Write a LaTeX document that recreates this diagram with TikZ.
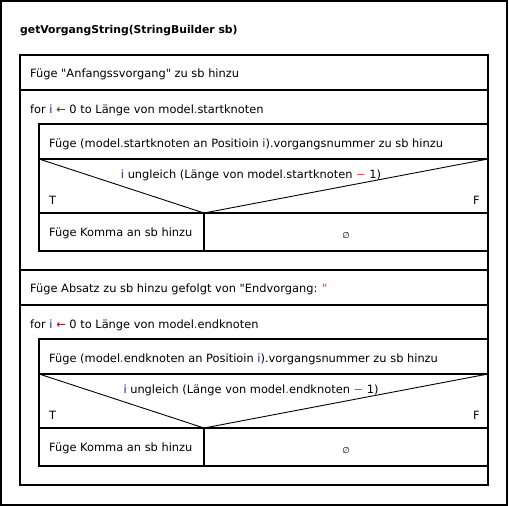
\documentclass[tikz,border=0pt]{standalone}
\usepackage{fontspec}
\setmainfont{DejaVu Sans}
\usetikzlibrary{positioning}
\definecolor{varblue}{RGB}{25,25,165}
\definecolor{arrred}{RGB}{135,20,20}
\definecolor{dotred}{RGB}{160,35,20}
\definecolor{minred}{RGB}{215,65,50}
\newcommand\vi{\textcolor{varblue}{i}}
\newcommand\dt{\textcolor{dotred}{.}}
\newcommand\qt{\textquotedbl}

\begin{document}
\begin{tikzpicture}[x=1pt,y=-1pt,
    nsline/.style={line width=1.1pt},
    nsthin/.style={line width=0.9pt},
    nstext/.style={anchor=west,inner sep=0pt,font=\fontsize{11.4}{13}\selectfont},
    nstitle/.style={nstext,font=\fontsize{10.8}{13}\selectfont\bfseries}]
    %%%%% FRAME %%%%%

    \useasboundingbox (0,0) rectangle (509,506);
    \draw[nsline] (1,1) rectangle (507,505);
    \node[nstitle] (title) at (20,31) {getVorgangString(StringBuilder sb)};

    \draw[nsline] (20,55) rectangle (488,485);
    \node[nstext] (anfang) at (30,74) {Füge \qt Anfangssvorgang\qt\ zu sb hinzu};
    \node[nstext] (absatz) at (30,289) {Füge Absatz zu sb hinzu gefolgt von \qt Endvorgang: \textcolor{minred}{\qt}};

    %%%%% LOOPS %%%%%
    \foreach \off/\knoten in {0/startknoten,215/endknoten}{
      \begin{scope}[yshift=-\off pt]
        \draw[nsline] (20,90) -- (488,90);
        \draw[nsline] (20,270) -- (488,270);
        \node[nstext] (for-\knoten) at (30,110) {for \vi\ \textcolor{arrred}{←} 0 to Länge von model\dt\knoten};

        \draw[nsline] (39,124) rectangle (488,251);
        \node[nstext] (add-\knoten) at (49,144) {Füge (model\dt\knoten\ an Positioin \vi).vorgangsnummer zu sb hinzu};

        \draw[nsline] (39,159) -- (488,159);
        \draw[nsthin] (39,159) -- (204,213) -- (488,159);
        \node[nstext,anchor=center] (cond-\knoten) at (251,175) {\vi\ ungleich (Länge von model\dt\knoten\ \textcolor{minred}{−} 1)};
        \node[nstext] (t-\knoten) at (49,200) {T};
        \node[nstext,anchor=east] (f-\knoten) at (480,200) {F};

        \draw[nsline] (39,213) -- (488,213);
        \draw[nsline] (204,213) -- (204,251);
        \node[nstext] (komma-\knoten) at (49,233) {Füge Komma an sb hinzu};
        \node[nstext,anchor=center,font=\fontsize{8.5}{9}\selectfont] (leer-\knoten) at (346,236) {∅};
      \end{scope}
    }

    %%%%% END %%%%%
\end{tikzpicture}
\end{document}
